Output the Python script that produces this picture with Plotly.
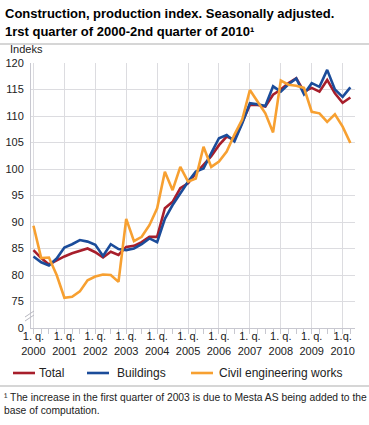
import plotly.graph_objects as go

# ---- data ----
quarters = [f"{y}Q{q}" for y in range(2000, 2011) for q in range(1, 5)][:42]
year_labels = ["1. q.<br>2000", "1. q.<br>2001", "1. q.<br>2002", "1. q.<br>2003", "1. q.<br>2004",
               "1. q.<br>2005", "1. q.<br>2006", "1. q.<br>2007", "1. q.<br>2008", "1. q.<br>2009",
               "1.q.<br>2010"]
y_ticks = [70, 75, 80, 85, 90, 95, 100, 105, 110, 115, 120]
y_ticktext = ["0", "75", "80", "85", "90", "95", "100", "105", "110", "115", "120"]

total = [84.7, 83.2, 82.0, 82.8,
         83.5, 84.1, 84.5, 85.0,
         84.3, 83.3, 84.4, 83.8,
         85.3, 85.5, 86.2, 87.2,
         87.2, 92.6, 93.8, 96.4,
         97.3, 99.2, 100.8, 102.4,
         104.5, 106.1, 105.5, 108.9,
         112.1, 112.1, 111.8, 114.0,
         115.0, 116.2, 117.1, 114.6,
         115.3, 114.6, 116.8, 114.3,
         112.5, 113.5]
buildings = [83.5, 82.4, 81.8, 83.1,
             85.2, 85.8, 86.6, 86.3,
             85.7, 83.6, 85.8, 84.9,
             84.7, 85.0, 85.8, 86.9,
             86.2, 90.6, 93.2, 95.4,
             97.6, 99.5, 100.1, 103.0,
             105.8, 106.4, 105.2, 108.6,
             112.4, 112.2, 111.9, 115.6,
             114.6, 116.0, 117.1, 114.1,
             116.2, 115.5, 118.7, 115.0,
             113.6, 115.4]
civil = [89.3, 83.2, 83.3, 80.0,
         75.7, 75.9, 76.9, 79.0,
         79.7, 80.1, 80.0, 78.7,
         90.6, 86.4, 87.2, 89.4,
         92.6, 99.5, 96.0, 100.4,
         97.6, 98.2, 104.2, 100.4,
         101.4, 103.3, 106.5, 109.3,
         114.9, 112.7, 110.5, 106.9,
         116.7, 115.9, 115.7, 115.3,
         110.8, 110.5, 108.9, 110.3,
         108.0, 104.9]

series_names = ["Total", "Buildings", "Civil engineering works"]
series_values = [total, buildings, civil]
series_colors = ["#a71e2b", "#1b4c9a", "#f7a031"]

# ---- layout geometry (pixels) ----
W, H = 369, 425
L, R, T, B = 31, 355, 63, 328
FONT = "Liberation Sans, Arial, sans-serif"


def px(x):
    return (x - L) / (R - L)


def py(y):
    return (B - y) / (B - T)


x_idx = list(range(len(quarters)))

fig = go.Figure()
for name, vals, col in zip(series_names, series_values, series_colors):
    fig.add_trace(go.Scatter(x=x_idx, y=vals, mode="lines", name=name,
                             line=dict(color=col, width=2.6), showlegend=False,
                             hoverinfo="skip"))

fig.update_layout(
    template="none",
    width=W, height=H,
    margin=dict(l=L, r=W - R, t=T, b=H - B, pad=0, autoexpand=False),
    paper_bgcolor="white", plot_bgcolor="white",
    font=dict(family=FONT, size=11, color="#222"),
    xaxis=dict(
        automargin=False,
        range=[-0.32, 41.6],
        tickvals=list(range(0, 41, 4)), ticktext=year_labels,
        ticks="outside", ticklen=5, tickcolor="#c8c8d0", tickwidth=1,
        ticklabelstandoff=-7,
        showgrid=True, gridcolor="#dcdce0", gridwidth=1,
        showline=True, linecolor="#c8c8d0", linewidth=1,
        zeroline=False,
        minor=dict(dtick=1, tick0=0, ticks="outside", ticklen=5, tickcolor="#c8c8d0",
                   showgrid=False),
        tickfont=dict(size=11, color="#222"),
    ),
    yaxis=dict(
        automargin=False,
        range=[70, 120],
        tickvals=y_ticks, ticktext=y_ticktext,
        showgrid=True, gridcolor="#dcdce0", gridwidth=1,
        showline=True, linecolor="#c8c8d0", linewidth=1,
        zeroline=False, ticks="", ticklabelstandoff=4,
        tickfont=dict(size=11, color="#222"),
    ),
)

ann = []
shapes = []
# title
ann.append(dict(text="<b>Construction, production index. Seasonally adjusted.</b>",
                x=px(3), y=py(13), xref="paper", yref="paper", xanchor="left", yanchor="middle",
                showarrow=False, font=dict(size=13, color="#000", family=FONT)))
ann.append(dict(text="<b>1rst quarter of 2000-2nd quarter of 2010¹</b>",
                x=px(3), y=py(31), xref="paper", yref="paper", xanchor="left", yanchor="middle",
                showarrow=False, font=dict(size=13, color="#000", family=FONT)))
# separator lines
shapes.append(dict(type="line", xref="paper", yref="paper", x0=px(0), x1=px(W), y0=py(44), y1=py(44),
                   line=dict(color="#c8c8c8", width=1.5)))
shapes.append(dict(type="line", xref="paper", yref="paper", x0=px(0), x1=px(W), y0=py(386), y1=py(386),
                   line=dict(color="#c8c8c8", width=1.5)))
# axis label
ann.append(dict(text="Indeks", x=px(8), y=py(49), xref="paper", yref="paper", xanchor="left",
                yanchor="middle", showarrow=False, font=dict(size=11, color="#222", family=FONT)))
# axis break marks
for dy in (0, 4):
    shapes.append(dict(type="line", xref="paper", yref="paper",
                       x0=px(25), x1=px(34), y0=py(317 + dy), y1=py(311 + dy),
                       line=dict(color="#b8b8c0", width=1)))
# legend (manual)
leg_x = [(13, 35, 37), (87, 109, 115), (191, 213, 217)]
for (x0, x1, tx), name, col in zip(leg_x, series_names, series_colors):
    shapes.append(dict(type="line", xref="paper", yref="paper", x0=px(x0), x1=px(x1),
                       y0=py(373), y1=py(373), line=dict(color=col, width=2.6)))
    ann.append(dict(text=name, x=px(tx), y=py(373), xref="paper", yref="paper", xanchor="left",
                    yanchor="middle", showarrow=False, font=dict(size=12, color="#222", family=FONT)))
# footnote
ann.append(dict(text="¹ The increase in the first quarter of 2003 is due to Mesta AS being added to the",
                x=px(2), y=py(397), xref="paper", yref="paper", xanchor="left", yanchor="middle",
                showarrow=False, font=dict(size=10.3, color="#222", family=FONT)))
ann.append(dict(text="base of computation.",
                x=px(2), y=py(410), xref="paper", yref="paper", xanchor="left", yanchor="middle",
                showarrow=False, font=dict(size=10.3, color="#222", family=FONT)))

fig.update_layout(annotations=ann, shapes=shapes)
fig.write_html("out.html", config={"displayModeBar": False, "responsive": False},
               post_script="document.body.style.margin='0px';document.body.style.overflow='hidden';")
